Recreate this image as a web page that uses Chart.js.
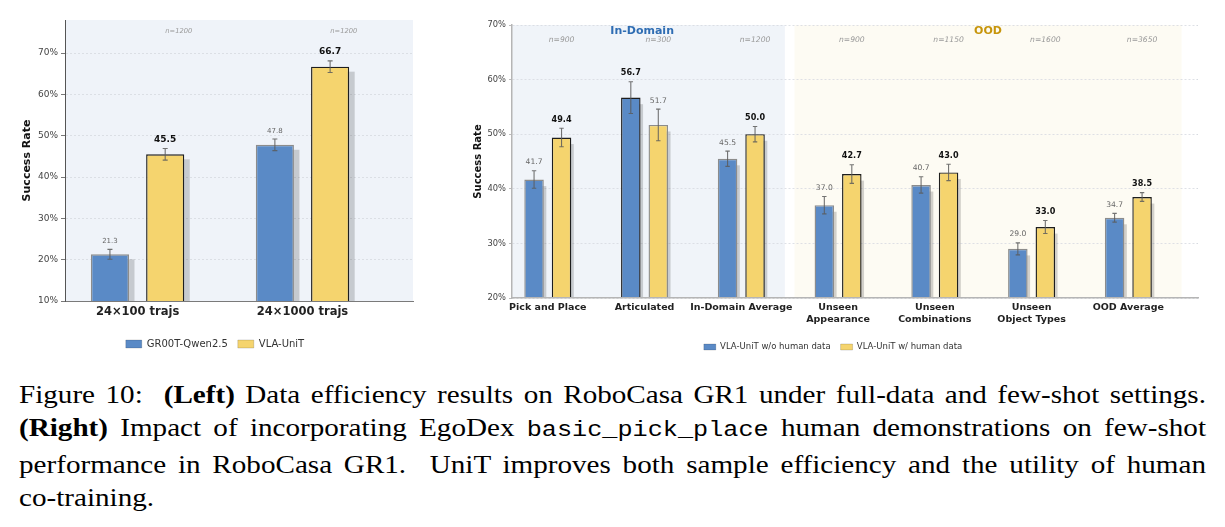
<!DOCTYPE html>
<html>
<head>
<meta charset="utf-8">
<script src="https://cdn.jsdelivr.net/npm/chart.js@4.4.1/dist/chart.umd.min.js"></script>
<style>
  html, body { margin: 0; padding: 0; background: #fff; }
  body { width: 1225px; height: 527px; position: relative; overflow: hidden; }
  #leftChart { position: absolute; left: 0; top: 0; }
  #rightChart { position: absolute; left: 440px; top: 0; }
  #caption {
    position: absolute; left: 19px; top: 378px; width: 1187px;
    font-family: "Liberation Serif", "Times New Roman", serif;
    font-size: 26px; line-height: 33.4px; color: #000;
  }
  #caption .line { display: block; white-space: nowrap; }
  #caption .line span.inner { display: inline-block; transform-origin: left center; }
  #caption code { font-family: "Liberation Mono", monospace; font-size: 22.5px; }
</style>
</head>
<body>
<canvas id="leftChart" width="440" height="370"></canvas>
<canvas id="rightChart" width="785" height="370"></canvas>
<div id="caption">
  <div class="line just"><span class="inner">Figure 10:&nbsp; <b>(Left)</b> Data efficiency results on RoboCasa GR1 under full-data and few-shot settings.</span></div>
  <div class="line just"><span class="inner"><b>(Right)</b> Impact of incorporating EgoDex <code>basic_pick_place</code> human demonstrations on few-shot</span></div>
  <div class="line just"><span class="inner">performance in RoboCasa GR1.&nbsp; UniT improves both sample efficiency and the utility of human</span></div>
  <div class="line"><span class="inner">co-training.</span></div>
</div>
<script>
// ---- left panel data ----
const leftCategories = ['24×100 trajs', '24×1000 trajs'];
const leftSeriesNames = ['GR00T-Qwen2.5', 'VLA-UniT'];
const leftBaseline = [21.3, 47.8];
const leftUniT = [45.5, 66.7];
const leftBaselineErr = [1.2, 1.4];
const leftUniTErr = [1.4, 1.4];
const leftN = ['n=1200', 'n=1200'];
const leftYTicks = [10, 20, 30, 40, 50, 60, 70];

// ---- right panel data ----
const rightCategories = [['Pick and Place'], ['Articulated'], ['In-Domain Average'],
  ['Unseen', 'Appearance'], ['Unseen', 'Combinations'], ['Unseen', 'Object Types'], ['OOD Average']];
const rightSeriesNames = ['VLA-UniT w/o human data', 'VLA-UniT w/ human data'];
const rightNoHuman = [41.7, 56.7, 45.5, 37.0, 40.7, 29.0, 34.7];
const rightHuman = [49.4, 51.7, 50.0, 42.7, 43.0, 33.0, 38.5];
const rightNoHumanErr = [1.6, 2.9, 1.4, 1.6, 1.5, 1.1, 0.8];
const rightHumanErr = [1.7, 2.9, 1.4, 1.7, 1.5, 1.2, 0.8];
const rightN = ['n=900', 'n=300', 'n=1200', 'n=900', 'n=1150', 'n=1600', 'n=3650'];
const rightYTicks = [20, 30, 40, 50, 60, 70];
const regionLabels = ['In-Domain', 'OOD'];
const regionStart = [-0.5, 2.55];
const regionEnd = [2.45, 6.55];

const FONT = "'DejaVu Sans', sans-serif";
const BLUE = '#5a8ac6';
const YELLOW = '#f5d46e';

const toPoints = vals => vals.map((v, i) => ({ x: i, y: v }));
// the better bar of each pair gets the dark edge
const edges = (own, other) => own.map((v, i) => v >= other[i] ? '#1e1e1e' : '#8c8c8c');

function makeDecor(cfg) {
  return {
    id: 'decor',
    beforeDraw(chart) {
      const { ctx, chartArea: a, scales: { x } } = chart;
      ctx.save();
      cfg.bands.forEach(b => {
        const l = Math.max(a.left, x.getPixelForValue(b.from));
        const r = Math.min(a.right, x.getPixelForValue(b.to));
        ctx.fillStyle = b.color;
        ctx.fillRect(l, a.top, r - l, a.bottom - a.top);
      });
      ctx.restore();
    },
    beforeDatasetsDraw(chart) {
      // drop shadow behind each bar
      const { ctx, chartArea: a, scales: { y } } = chart;
      ctx.save();
      ctx.beginPath();
      ctx.rect(a.left, a.top, a.right - a.left, a.bottom - a.top);
      ctx.clip();
      ctx.fillStyle = 'rgba(0,0,0,0.17)';
      chart.data.datasets.forEach((ds, di) => {
        chart.getDatasetMeta(di).data.forEach((bar, i) => {
          const top = y.getPixelForValue(ds.data[i].y - cfg.shadowDrop);
          ctx.fillRect(bar.x - bar.width / 2 + cfg.shadowDx, top, bar.width, a.bottom - top);
        });
      });
      ctx.restore();
    },
    afterDatasetsDraw(chart) {
      const { ctx, chartArea: a, scales: { x, y } } = chart;
      const sets = chart.data.datasets;
      ctx.save();
      sets.forEach((ds, di) => {
        const other = sets[1 - di];
        chart.getDatasetMeta(di).data.forEach((bar, i) => {
          const v = ds.data[i].y;
          const e = cfg.errors[di][i];
          const yTop = y.getPixelForValue(v + e);
          const yBot = y.getPixelForValue(v - e);
          ctx.strokeStyle = 'rgba(90,90,90,0.85)';
          ctx.lineWidth = 1.1;
          ctx.beginPath();
          ctx.moveTo(bar.x, yTop); ctx.lineTo(bar.x, yBot);
          ctx.moveTo(bar.x - cfg.cap, yTop); ctx.lineTo(bar.x + cfg.cap, yTop);
          ctx.moveTo(bar.x - cfg.cap, yBot); ctx.lineTo(bar.x + cfg.cap, yBot);
          ctx.stroke();
          const best = v >= other.data[i].y;
          ctx.textAlign = 'center';
          ctx.textBaseline = 'alphabetic';
          ctx.font = best ? `bold ${cfg.boldSize}px ${FONT}` : `${cfg.normalSize}px ${FONT}`;
          ctx.fillStyle = best ? '#111' : '#666';
          ctx.fillText(v.toFixed(1), bar.x, yTop - 6.5);
        });
      });
      ctx.font = `italic ${cfg.nSize}px ${FONT}`;
      ctx.fillStyle = '#999';
      ctx.textAlign = 'center';
      cfg.nLabels.forEach((t, i) => ctx.fillText(t, x.getPixelForValue(i + cfg.nOffset), a.top + cfg.nDy));
      cfg.bands.forEach(b => {
        if (!b.label) return;
        ctx.font = `bold 11px ${FONT}`;
        ctx.fillStyle = b.labelColor;
        ctx.fillText(b.label, x.getPixelForValue((b.from + b.to) / 2), a.top + 9);
      });
      ctx.restore();
    }
  };
}

function legendLabels(chart) {
  return chart.data.datasets.map((d, i) => ({
    text: d.label, fillStyle: d.backgroundColor, strokeStyle: 'rgba(0,0,0,0.3)',
    lineWidth: 0.5, datasetIndex: i, hidden: false, fontColor: '#333'
  }));
}

function buildChart(el, o) {
  return new Chart(el, {
    type: 'bar',
    data: {
      datasets: [
        { label: o.names[0], data: toPoints(o.a), backgroundColor: o.colors[0],
          borderColor: edges(o.a, o.b), borderWidth: 1.4, categoryPercentage: o.catPct, barPercentage: o.barPct },
        { label: o.names[1], data: toPoints(o.b), backgroundColor: o.colors[1],
          borderColor: edges(o.b, o.a), borderWidth: 1.4, categoryPercentage: o.catPct, barPercentage: o.barPct }
      ]
    },
    options: {
      responsive: false,
      animation: false,
      layout: { padding: o.padding },
      plugins: {
        tooltip: { enabled: false },
        legend: {
          position: 'bottom',
          labels: { font: { family: FONT, size: o.legendSize }, color: '#333', boxWidth: o.box[0], boxHeight: o.box[1],
            padding: 10, generateLabels: legendLabels }
        }
      },
      scales: {
        x: {
          type: 'linear', min: o.xMin, max: o.xMax, offset: false,
          afterBuildTicks: s => { s.ticks = o.categories.map((c, i) => ({ value: i })); },
          afterFit: s => { s.height = o.xAxisHeight; },
          ticks: { callback: (v, i) => o.categories[i], autoSkip: false, maxRotation: 0, padding: 4,
            color: '#222', font: { family: FONT, size: o.xSize, weight: 'bold' } },
          grid: { display: false, drawTicks: false, offset: false },
          border: { display: true, color: o.bottomSpine, width: o.spineWidth, z: 1 }
        },
        y: {
          min: o.yMin, max: o.yMax,
          afterBuildTicks: s => { s.ticks = o.yTicks.map(v => ({ value: v })); },
          afterFit: s => { s.width = o.yAxisWidth; },
          ticks: { callback: v => v + '%', padding: 3, color: '#444', font: { family: FONT, size: o.ySize } },
          grid: { color: '#d6dae0', lineWidth: 0.8, tickLength: o.tickLen, tickColor: o.tickColor, tickWidth: 1, tickBorderDash: [] },
          border: { display: true, color: o.leftSpine, width: o.spineWidth, dash: [2, 2], z: 1 },
          title: { display: true, text: 'Success Rate', color: '#111', font: { family: FONT, size: o.titleSize, weight: 'bold' } }
        }
      }
    },
    plugins: [makeDecor(o.decor)]
  });
}

buildChart(document.getElementById('leftChart'), {
  names: leftSeriesNames, a: leftBaseline, b: leftUniT, categories: leftCategories,
  colors: [BLUE, YELLOW], catPct: 0.67, barPct: 0.69,
  padding: { left: 17, right: 27, top: 20, bottom: 11 },
  xMin: -0.44, xMax: 1.67, yMin: 10, yMax: 78, yTicks: leftYTicks,
  xAxisHeight: 28, yAxisWidth: 48, xSize: 11.5, ySize: 9, titleSize: 11, legendSize: 10, box: [16, 8],
  bottomSpine: '#7a7a7a', leftSpine: '#555', spineWidth: 1, tickLen: 4, tickColor: '#777',
  decor: {
    bands: [{ from: -1, to: 3, color: '#eff3f9' }],
    errors: [leftBaselineErr, leftUniTErr], cap: 2.5, shadowDx: 5.5, shadowDrop: 1.2,
    boldSize: 9, normalSize: 7, nLabels: leftN, nOffset: 0.25, nDy: 13, nSize: 6.7
  }
});

buildChart(document.getElementById('rightChart'), {
  names: rightSeriesNames, a: rightNoHuman, b: rightHuman, categories: rightCategories,
  colors: [BLUE, YELLOW], catPct: 0.568, barPct: 0.71,
  padding: { left: 28, right: 27, top: 25, bottom: 8.75 },
  xMin: -0.37, xMax: 6.72, yMin: 20, yMax: 70, yTicks: rightYTicks,
  xAxisHeight: 34.75, yAxisWidth: 44, xSize: 9.5, ySize: 8.3, titleSize: 10, legendSize: 8.5, box: [12, 6],
  bottomSpine: '#b5b5b5', leftSpine: '#b5b5b5', spineWidth: 1.5, tickLen: 3, tickColor: '#bbb',
  decor: {
    bands: [
      { from: regionStart[0], to: regionEnd[0], color: '#f0f4f9', label: regionLabels[0], labelColor: '#2f6db3' },
      { from: regionStart[1], to: regionEnd[1], color: '#fdfbf3', label: regionLabels[1], labelColor: '#c7950b' }
    ],
    errors: [rightNoHumanErr, rightHumanErr], cap: 2.2, shadowDx: 2.5, shadowDrop: 1.2,
    boldSize: 8.1, normalSize: 7.6, nLabels: rightN, nOffset: 0.142, nDy: 17, nSize: 7.6
  }
});

// caption: glyphs are set a little wider than Liberation Serif, then gaps fill the column
const stretch = 1.12;
const target = 1187;
document.querySelectorAll('#caption .line .inner').forEach(el => {
  const justify = el.parentElement.classList.contains('just');
  let s = stretch;
  if (justify) {
    const natural = el.getBoundingClientRect().width;
    const spaces = (el.textContent.match(/[ \u00a0]/g) || []).length;
    const extra = (target / s - natural) / spaces;
    if (extra >= 0) el.style.wordSpacing = extra + 'px';
    else s = target / natural;
  }
  el.style.transform = `scaleX(${s})`;
});
</script>
</body>
</html>
